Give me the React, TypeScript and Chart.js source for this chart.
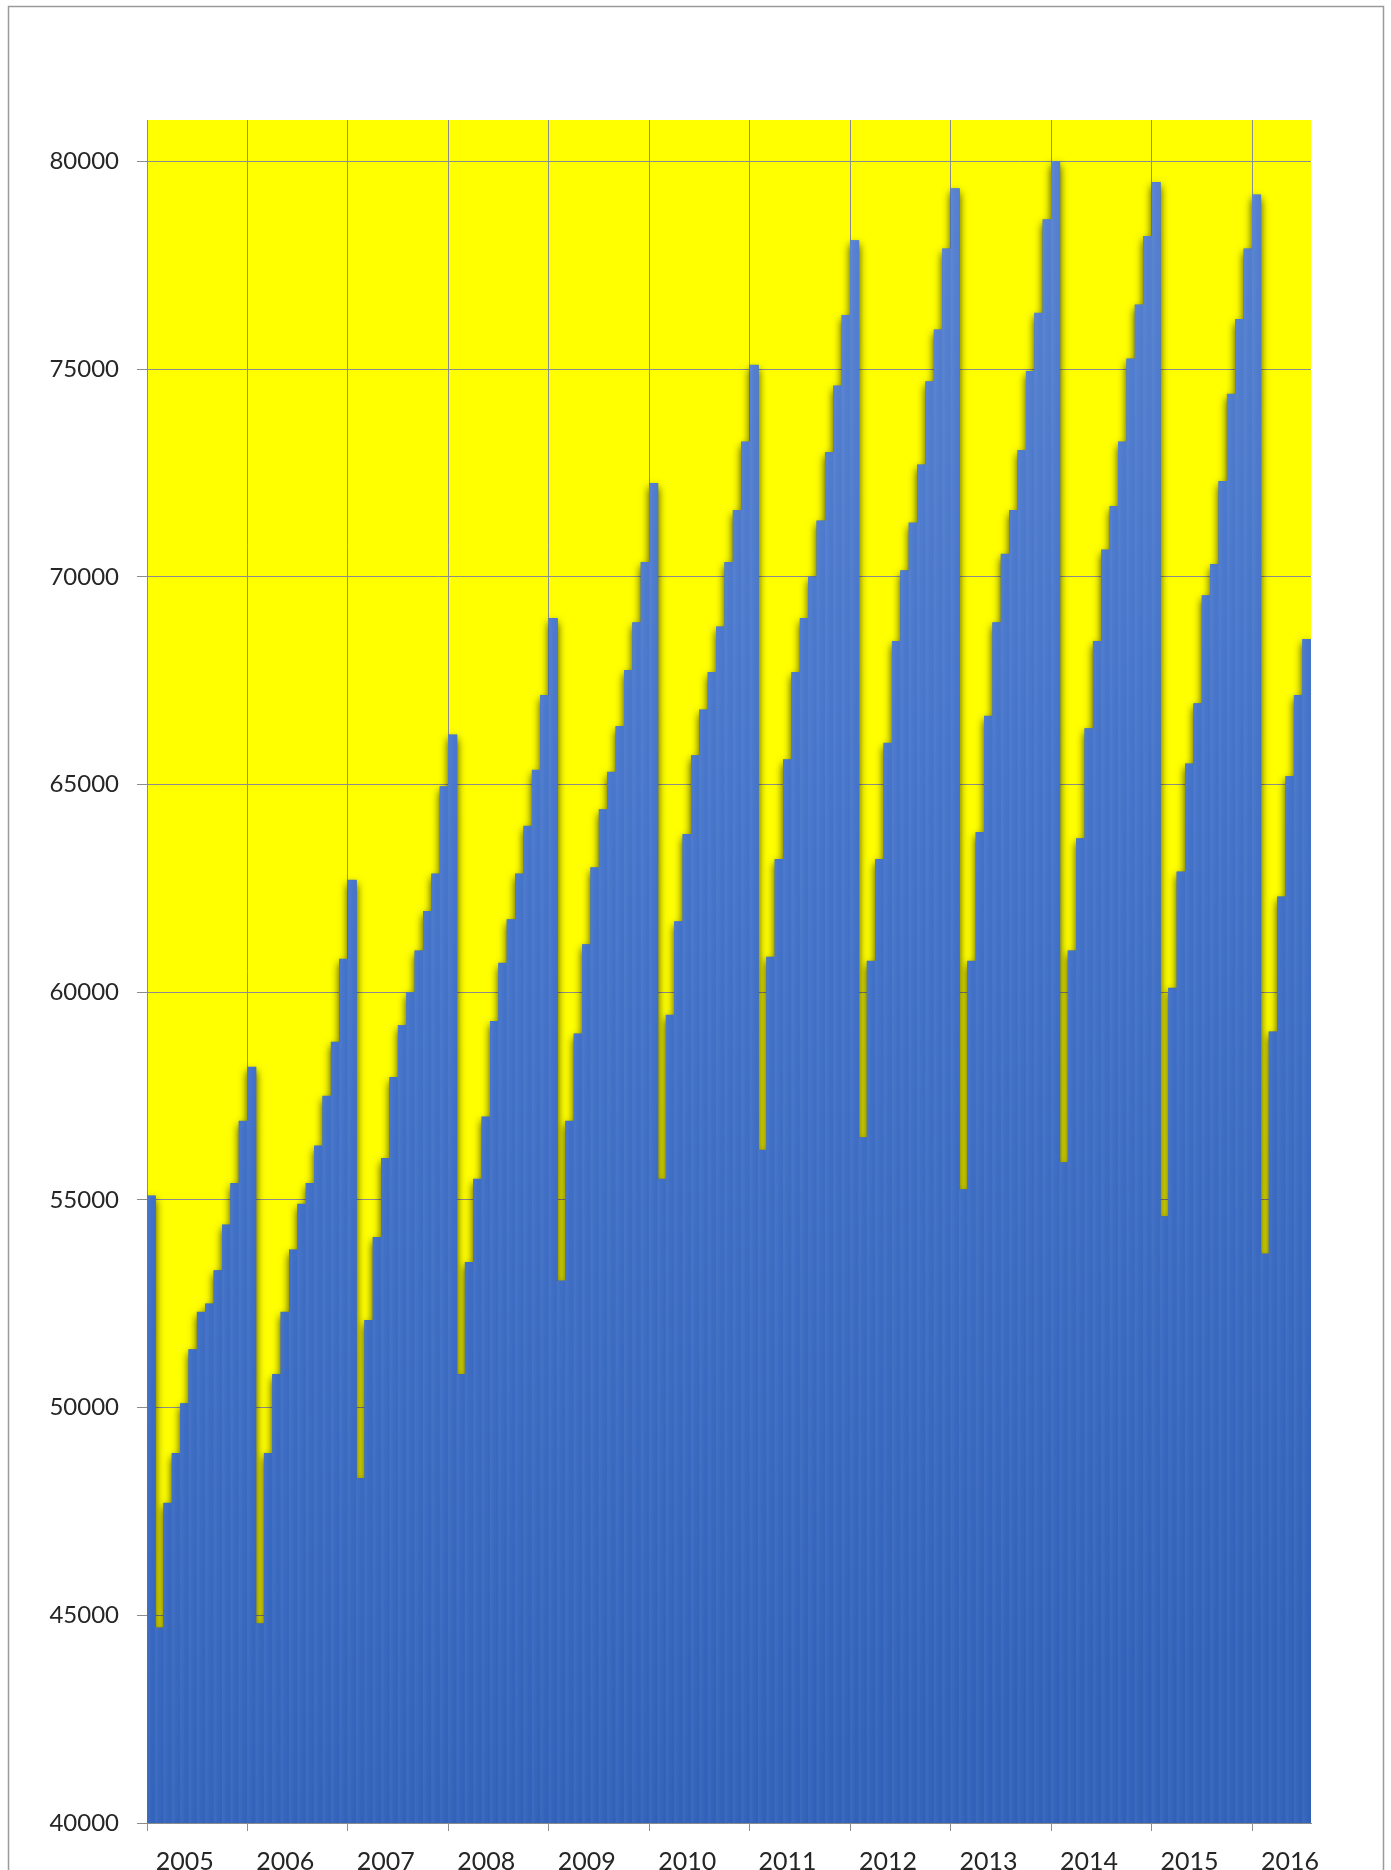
import { useEffect, useRef } from 'react';
import { Chart, registerables } from 'chart.js';

Chart.register(...registerables);

// ---- data ----
const YEARS = ['2005', '2006', '2007', '2008', '2009', '2010', '2011', '2012', '2013', '2014', '2015', '2016'];

const V2005 = [55100, 44700, 47700, 48900, 50100, 51400, 52300, 52500, 53300, 54400, 55400, 56900];
const V2006 = [58200, 44800, 48900, 50800, 52300, 53800, 54900, 55400, 56300, 57500, 58800, 60800];
const V2007 = [62700, 48300, 52100, 54100, 56000, 57950, 59200, 60000, 61000, 61950, 62850, 64950];
const V2008 = [66200, 50800, 53500, 55500, 57000, 59300, 60700, 61750, 62850, 64000, 65350, 67150];
const V2009 = [69000, 53050, 56900, 59000, 61150, 63000, 64400, 65300, 66400, 67750, 68900, 70350];
const V2010 = [72250, 55500, 59450, 61700, 63800, 65700, 66800, 67700, 68800, 70350, 71600, 73250];
const V2011 = [75100, 56200, 60850, 63200, 65600, 67700, 69000, 70000, 71350, 73000, 74600, 76300];
const V2012 = [78100, 56500, 60750, 63200, 66000, 68450, 70150, 71300, 72700, 74700, 75950, 77900];
const V2013 = [79350, 55250, 60750, 63850, 66650, 68900, 70550, 71600, 73050, 74950, 76350, 78600];
const V2014 = [80000, 55900, 61000, 63700, 66350, 68450, 70650, 71700, 73250, 75250, 76550, 78200];
const V2015 = [79500, 54600, 60100, 62900, 65500, 66950, 69550, 70300, 72300, 74400, 76200, 77900];
const V2016 = [79200, 53700, 59050, 62300, 65200, 67150, 68500];

const SERIES_BY_YEAR = [V2005, V2006, V2007, V2008, V2009, V2010, V2011, V2012, V2013, V2014, V2015, V2016];

const Y_MIN = 40000;
const Y_MAX = 81000;
const Y_TICKS = [40000, 45000, 50000, 55000, 60000, 65000, 70000, 75000, 80000];
const LABEL_SLOT = 4; // year label sits under the 5th bar of each year
const PER_YEAR = 12;

const LABELS = YEARS.flatMap((y, i) =>
  SERIES_BY_YEAR[i].map((_, m) => `${y}-${String(m + 1).padStart(2, '0')}`)
);
const VALUES = SERIES_BY_YEAR.flat();

// ---- styles ----
const GRID = '#8c8c8c';
const FONT = 'Lato, "Open Sans", "DejaVu Sans", sans-serif';

function barRect(el: any) {
  const p = el.getProps(['x', 'y', 'base', 'width'], true);
  const inf = 0.33;
  return { left: p.x - p.width / 2 - inf, top: p.y, w: p.width + inf * 2, h: p.base - p.y };
}

const framePlugin = {
  id: 'frame',
  beforeDraw(chart: any) {
    const { ctx, chartArea: a, width, height } = chart;
    ctx.save();
    ctx.fillStyle = '#ffffff';
    ctx.fillRect(0, 0, width, height);
    ctx.strokeStyle = '#9a9a9a';
    ctx.lineWidth = 1.5;
    ctx.beginPath();
    ctx.moveTo(8.5, height + 2);
    ctx.lineTo(8.5, 6.5);
    ctx.lineTo(1383.5, 6.5);
    ctx.lineTo(1383.5, height + 2);
    ctx.stroke();
    ctx.fillStyle = '#ffff00';
    ctx.fillRect(a.left, a.top, a.right - a.left, a.bottom - a.top);
    ctx.restore();
  },
};

const shadowPlugin = {
  id: 'barShadow',
  beforeDatasetDraw(chart: any, args: any) {
    const meta = chart.getDatasetMeta(args.index);
    const { ctx, chartArea: a } = chart;
    ctx.save();
    ctx.beginPath();
    ctx.rect(a.left, a.top, a.right - a.left, a.bottom - a.top);
    ctx.clip();
    ctx.shadowColor = 'rgba(0,0,0,0.75)';
    ctx.shadowBlur = 8;
    ctx.shadowOffsetX = 0;
    ctx.shadowOffsetY = 4;
    ctx.fillStyle = '#3f6fc4';
    meta.data.forEach((el: any) => {
      const r = barRect(el);
      ctx.fillRect(r.left, r.top, r.w, r.h);
    });
    ctx.restore();
  },
  afterDatasetDraw(chart: any, args: any) {
    const meta = chart.getDatasetMeta(args.index);
    const { ctx, chartArea: a } = chart;
    ctx.save();
    ctx.beginPath();
    ctx.rect(a.left, a.top, a.right - a.left, a.bottom - a.top);
    ctx.clip();
    meta.data.forEach((el: any) => {
      const r = barRect(el);
      const g = ctx.createLinearGradient(r.left, 0, r.left + r.w, 0);
      g.addColorStop(0, 'rgba(255,255,255,0.07)');
      g.addColorStop(0.5, 'rgba(255,255,255,0.02)');
      g.addColorStop(1, 'rgba(255,255,255,0)');
      ctx.fillStyle = g;
      ctx.fillRect(r.left, r.top, r.w, r.h);
    });
    ctx.restore();
  },
};

export default function App() {
  const ref = useRef<HTMLCanvasElement>(null);

  useEffect(() => {
    const canvas = ref.current;
    if (!canvas) return;
    const chart = new Chart(canvas, {
      type: 'bar',
      data: {
        labels: LABELS,
        datasets: [
          {
            data: VALUES,
            barPercentage: 1,
            categoryPercentage: 1,
            borderWidth: 0,
            backgroundColor: (c: any) => {
              const { ctx, chartArea: a } = c.chart;
              if (!a) return '#4472c4';
              const g = ctx.createLinearGradient(a.left, a.top, a.left + (a.bottom - a.top) * 0.25, a.bottom);
              g.addColorStop(0, '#5d86d2');
              g.addColorStop(0.5, '#4272c9');
              g.addColorStop(1, '#2f60b9');
              return g;
            },
          },
        ],
      },
      options: {
        responsive: false,
        animation: false,
        devicePixelRatio: 1,
        layout: { padding: { top: 120, right: 80, left: 0, bottom: 0 } },
        plugins: {
          legend: { display: false },
          tooltip: { enabled: false },
          title: { display: false },
        },
        scales: {
          x: {
            type: 'category',
            offset: true,
            afterFit: (s: any) => {
              s.height = 47;
            },
            grid: {
              offset: true,
              drawOnChartArea: true,
              color: (c: any) => (c.index % PER_YEAR === 0 && c.index < VALUES.length ? GRID : 'rgba(0,0,0,0)'),
              tickColor: (c: any) => (c.index % PER_YEAR === 0 && c.index < VALUES.length ? GRID : 'rgba(0,0,0,0)'),
              tickLength: 8,
              lineWidth: 1,
            },
            border: { display: true, color: GRID, width: 1 },
            ticks: {
              autoSkip: false,
              maxRotation: 0,
              minRotation: 0,
              padding: 16,
              color: '#262626',
              font: { family: FONT, size: 25 },
              callback: (_v: any, index: number) =>
                index % PER_YEAR === LABEL_SLOT ? YEARS[Math.floor(index / PER_YEAR)] : '',
            },
          },
          y: {
            min: Y_MIN,
            max: Y_MAX,
            afterFit: (s: any) => {
              s.width = 147;
            },
            afterBuildTicks: (s: any) => {
              s.ticks = Y_TICKS.map((v) => ({ value: v }));
            },
            grid: { color: GRID, tickColor: GRID, tickLength: 10, lineWidth: 1 },
            border: { display: true, color: GRID, width: 1 },
            ticks: {
              padding: 18,
              color: '#262626',
              font: { family: FONT, size: 24 },
              callback: (v: any) => String(v),
            },
          },
        },
      },
      plugins: [framePlugin, shadowPlugin],
    } as any);
    return () => chart.destroy();
  }, []);

  return (
    <div style={{ position: 'absolute', left: 0, top: 0, width: 1391, height: 1870 }}>
      <canvas ref={ref} width={1391} height={1870} style={{ display: 'block' }} />
    </div>
  );
}
